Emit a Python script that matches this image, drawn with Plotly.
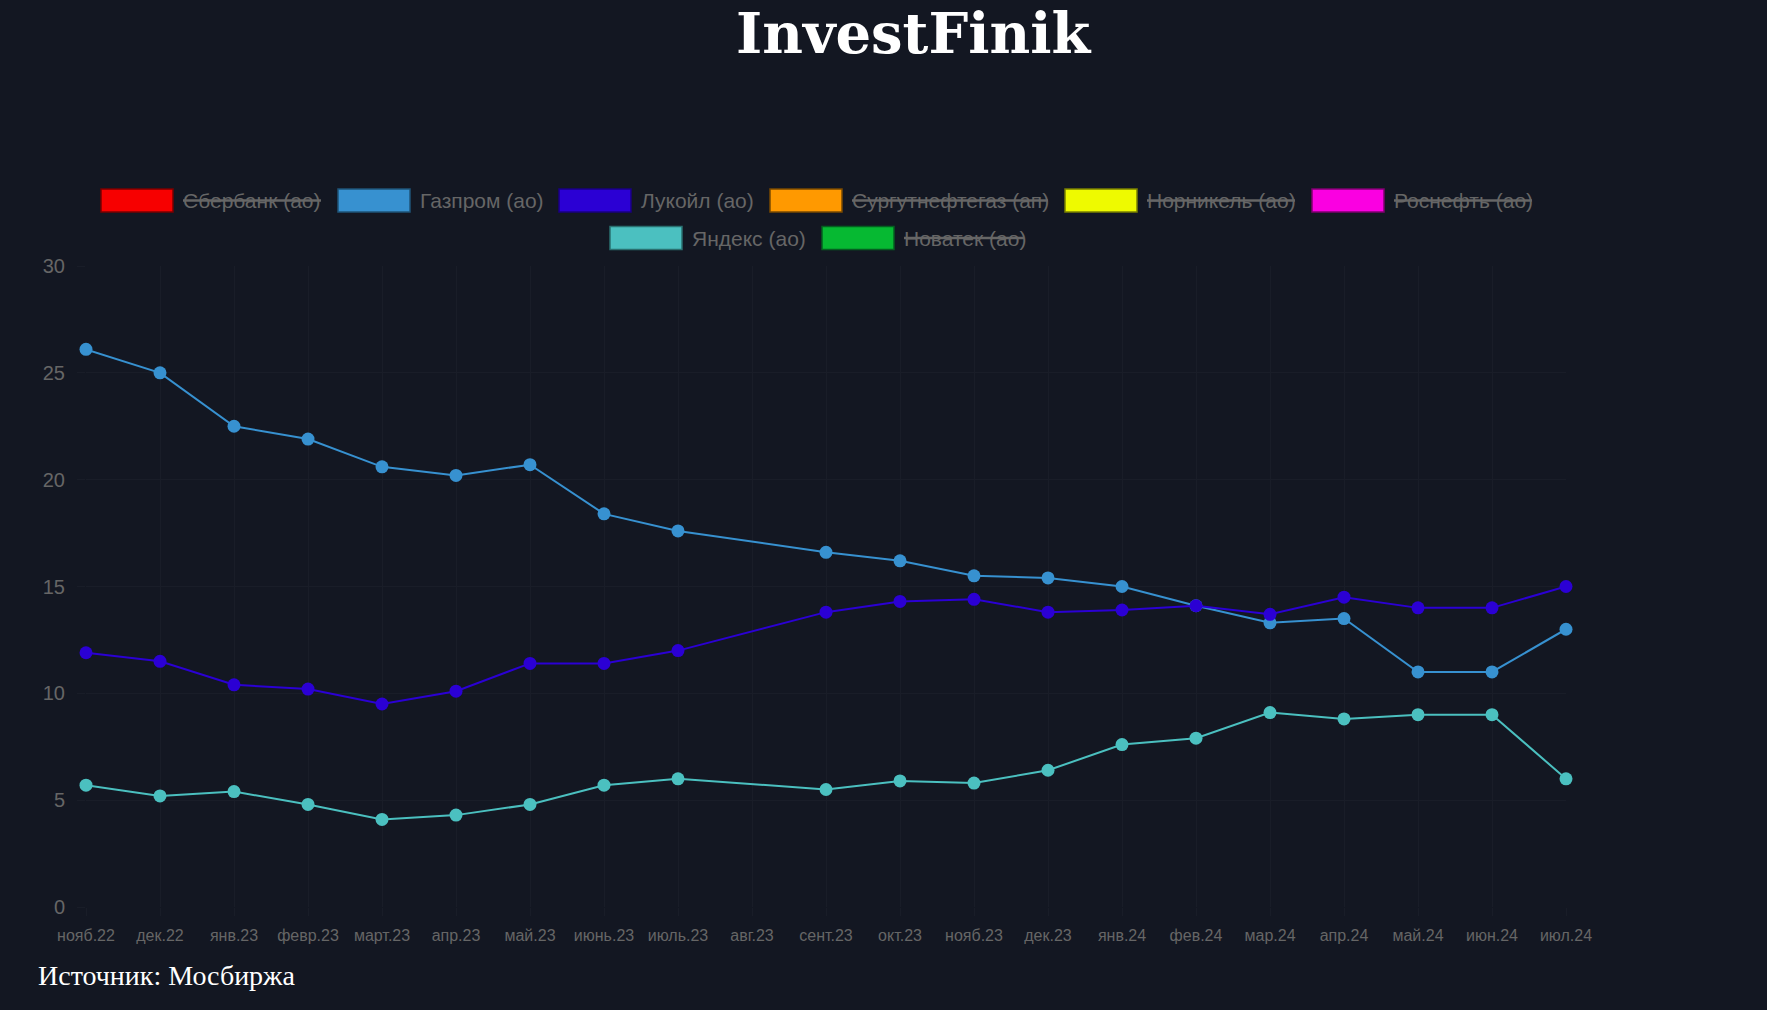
import plotly.graph_objects as go

# ---------------- data ----------------
months = ["нояб.22", "дек.22", "янв.23", "февр.23", "март.23", "апр.23", "май.23",
          "июнь.23", "июль.23", "авг.23", "сент.23", "окт.23", "нояб.23", "дек.23",
          "янв.24", "фев.24", "мар.24", "апр.24", "май.24", "июн.24", "июл.24"]

gazprom = [26.1, 25.0, 22.5, 21.9, 20.6, 20.2, 20.7, 18.4, 17.6, None, 16.6, 16.2,
           15.5, 15.4, 15.0, 14.1, 13.3, 13.5, 11.0, 11.0, 13.0]
lukoil = [11.9, 11.5, 10.4, 10.2, 9.5, 10.1, 11.4, 11.4, 12.0, None, 13.8, 14.3,
          14.4, 13.8, 13.9, 14.1, 13.7, 14.5, 14.0, 14.0, 15.0]
yandex = [5.7, 5.2, 5.4, 4.8, 4.1, 4.3, 4.8, 5.7, 6.0, None, 5.5, 5.9,
          5.8, 6.4, 7.6, 7.9, 9.1, 8.8, 9.0, 9.0, 6.0]

legend_names = ["Сбербанк (ао)", "Газпром (ао)", "Лукойл (ао)", "Сургутнефтегаз (ап)",
                "Норникель (ао)", "Роснефть (ао)", "Яндекс (ао)", "Новатек (ао)"]
legend_hidden = [True, False, False, True, True, True, False, True]

y_ticks = [0, 5, 10, 15, 20, 25, 30]

# ---------------- styles / layout ----------------
W, H = 1767, 1010
L, R, T, B = 86, 1767 - 1566, 266, 1010 - 907
PW, PH = W - L - R, H - T - B
BG = "#131722"
GRID = "#191d28"
TXT = "#666666"

legend_colors = ["#f70000", "#3791d0", "#2b00d4", "#ff9900",
                 "#eefa00", "#fa00e1", "#4bc0c0", "#06b932"]
legend_border = ["#7a0000", "#1f5478", "#1a0080", "#7a4a00",
                 "#7a8000", "#800070", "#2a7070", "#046020"]
# (row, box_x0, text_end) in pixels
legend_pos = [(0, 101, 321), (0, 338, 542), (0, 559, 753), (0, 770, 1048),
              (0, 1065, 1295), (0, 1312, 1532), (1, 610, 805), (1, 822, 1024)]
row_y = [200.6, 238.0]
BOX_W, BOX_H = 72, 23


def px(x):
    return (x - L) / PW


def py(y):
    return (H - B - y) / PH


fig = go.Figure()

series = [(gazprom, "Газпром (ао)", "#3791d0"),
          (lukoil, "Лукойл (ао)", "#2b00d4"),
          (yandex, "Яндекс (ао)", "#4bc0c0")]
for vals, name, col in series:
    fig.add_trace(go.Scatter(
        x=months, y=vals, name=name, mode="lines+markers",
        connectgaps=True, cliponaxis=False,
        line=dict(color=col, width=2),
        marker=dict(color=col, size=13, line=dict(width=0)),
        showlegend=False,
    ))

shapes = []
annotations = []
for i, name in enumerate(legend_names):
    row, bx, tend = legend_pos[i]
    yc = row_y[row]
    shapes.append(dict(type="rect", xref="paper", yref="paper",
                       x0=px(bx), x1=px(bx + BOX_W),
                       y0=py(yc + BOX_H / 2), y1=py(yc - BOX_H / 2),
                       fillcolor=legend_colors[i],
                       line=dict(color=legend_border[i], width=1.5)))
    tx = bx + BOX_W + 8
    annotations.append(dict(text=name, xref="paper", yref="paper",
                            x=px(tx), y=py(yc), xanchor="left", yanchor="middle",
                            showarrow=False,
                            font=dict(family="Liberation Sans, Arial", size=21, color=TXT)))
    if legend_hidden[i]:
        shapes.append(dict(type="line", xref="paper", yref="paper",
                           x0=px(tx + 2), x1=px(tend), y0=py(yc), y1=py(yc),
                           line=dict(color=TXT, width=2.5)))

annotations.append(dict(text="InvestFinik", xref="paper", yref="paper",
                        x=px(914), y=py(33), xanchor="center", yanchor="middle",
                        showarrow=False,
                        font=dict(family="DejaVu Serif", size=56, color="#ffffff",
                                  weight="bold")))
annotations.append(dict(text="Источник: Мосбиржа", xref="paper", yref="paper",
                        x=px(36), y=py(975), xanchor="left", yanchor="middle",
                        showarrow=False,
                        font=dict(family="Liberation Serif, Times New Roman", size=28,
                                  color="#ffffff")))

fig.update_layout(
    width=W, height=H,
    margin=dict(l=L, r=R, t=T, b=B, autoexpand=False),
    paper_bgcolor=BG, plot_bgcolor=BG,
    shapes=shapes, annotations=annotations,
    showlegend=False,
    xaxis=dict(type="category", categoryorder="array", categoryarray=months,
               range=[0, len(months) - 1], showgrid=True, gridcolor=GRID,
               gridwidth=1, zeroline=False, showline=False,
               ticks="outside", ticklen=8, tickcolor=GRID,
               tickfont=dict(family="Liberation Sans, Arial", size=16, color=TXT),
               ticklabelstandoff=6, fixedrange=True),
    yaxis=dict(range=[0, 30], tickvals=y_ticks, showgrid=True, gridcolor=GRID,
               gridwidth=1, zeroline=False, showline=False,
               ticks="outside", ticklen=8, tickcolor=GRID,
               tickfont=dict(family="Liberation Sans, Arial", size=20, color=TXT),
               ticklabelstandoff=8, fixedrange=True),
)

fig.write_html("out.html", config={"displayModeBar": False},
               post_script="document.body.style.margin='0';document.body.style.overflow='hidden';document.body.style.background='" + BG + "';")
